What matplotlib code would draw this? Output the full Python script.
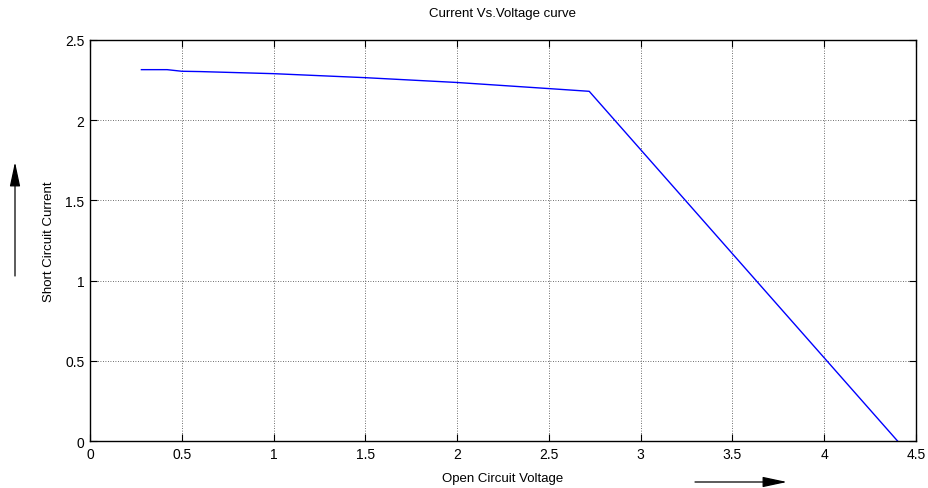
import matplotlib
matplotlib.use("Agg")
import matplotlib.pyplot as plt

plt.rcParams["font.family"] = ["Liberation Sans", "DejaVu Sans"]

# I-V curve
voltage = [0.28, 0.42, 0.50, 0.60, 1.00, 1.50, 2.00, 2.50, 2.72, 4.40]
current = [2.315, 2.315, 2.305, 2.303, 2.29, 2.265, 2.235, 2.197, 2.18, 0.0]

x_ticks = [0, 0.5, 1, 1.5, 2, 2.5, 3, 3.5, 4, 4.5]
x_labels = ["0", "0.5", "1", "1.5", "2", "2.5", "3", "3.5", "4", "4.5"]
y_ticks = [0, 0.5, 1, 1.5, 2, 2.5]
y_labels = ["0", "0.5", "1", "1.5", "2", "2.5"]

fig = plt.figure(figsize=(9.29, 4.89), dpi=100)
ax = fig.add_axes([0.0969, 0.0961, 0.889, 0.8201])

ax.plot(voltage, current, color="#0000ff", lw=1.0)

ax.set_xlim(0, 4.5)
ax.set_ylim(0, 2.5)
ax.set_xticks(x_ticks, x_labels)
ax.set_yticks(y_ticks, y_labels)
ax.tick_params(direction="in", length=5, width=0.8, top=True, right=True,
               labelsize=10, pad=4)
ax.grid(True, color="#404040", ls=(0, (1, 2)), lw=0.6)
for s in ax.spines.values():
    s.set_linewidth(1.0)

ax.set_title("Current Vs.Voltage curve", fontsize=9.5, pad=17)
ax.set_xlabel("Open Circuit Voltage", fontsize=9.5, labelpad=8)
ax.set_ylabel("Short Circuit Current", fontsize=9.5, labelpad=7)

# direction arrows beside the axis labels
arrow = dict(arrowstyle="-|>,head_length=1.5,head_width=0.32", color="black",
             lw=0.9, shrinkA=0, shrinkB=0, mutation_scale=10)
fig.add_artist(matplotlib.patches.FancyArrowPatch(
    (15 / 929, 1 - 277 / 489), (15 / 929, 1 - 163 / 489),
    transform=fig.transFigure, **arrow))
fig.add_artist(matplotlib.patches.FancyArrowPatch(
    (695 / 929, 1 - 483 / 489), (787 / 929, 1 - 483 / 489),
    transform=fig.transFigure, **arrow))

fig.savefig("out.png", dpi=100)
